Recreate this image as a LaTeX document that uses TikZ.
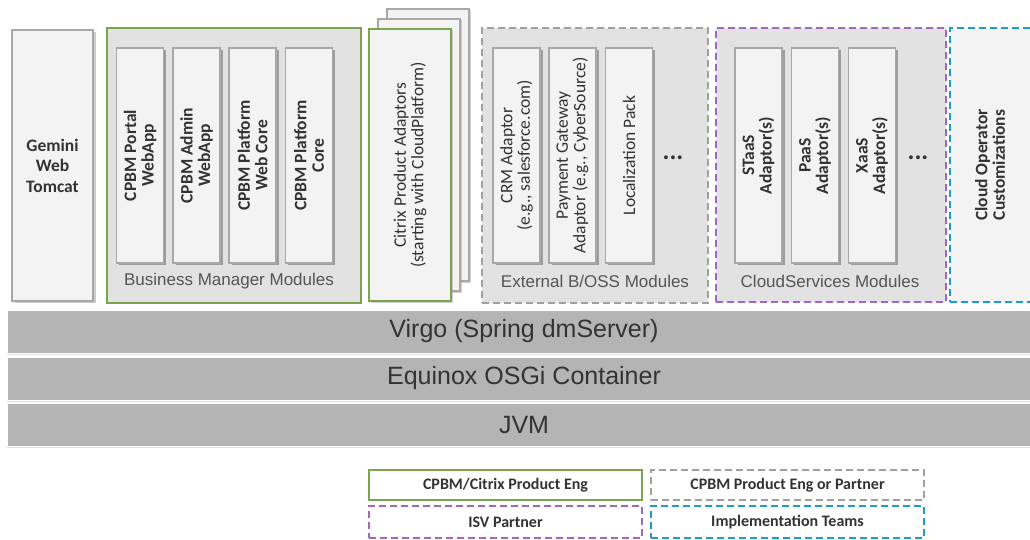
\documentclass[tikz,border=0pt]{standalone}
\usepackage{fontspec}
\setmainfont{Carlito}
\newfontfamily\labfont{Liberation Sans}
\usetikzlibrary{shadows}
\definecolor{gborder}{HTML}{A8A8A8}
\definecolor{boxfill}{HTML}{F3F3F3}
\definecolor{contfill}{HTML}{E2E2E2}
\definecolor{greenc}{HTML}{7AA54E}
\definecolor{purplec}{HTML}{A066C0}
\definecolor{bluec}{HTML}{1F9BC9}
\definecolor{dashgray}{HTML}{A0A0A0}
\definecolor{layerfill}{HTML}{B4B4B4}
\definecolor{txt}{HTML}{333333}
\definecolor{labtxt}{HTML}{555555}
\tikzset{
  inbox/.style={draw=gborder, line width=1.2pt, fill=boxfill, minimum width=47pt, minimum height=215pt, inner sep=0pt,
     drop shadow={shadow xshift=2.5pt, shadow yshift=-2pt, fill=black!45, opacity=0.8}},
  vtext/.style={rotate=90, align=center, font=\fontsize{17.5}{17.5}\selectfont\bfseries, text=txt, inner sep=0pt},
  vtextr/.style={rotate=90, align=center, font=\fontsize{17.5}{17.5}\selectfont, text=txt, inner sep=0pt},
  modlabel/.style={font=\labfont\fontsize{17}{19}\selectfont, text=labtxt, inner sep=0pt},
  layer/.style={fill=layerfill, draw=white, line width=1pt, minimum width=1040pt, minimum height=43pt, inner sep=0pt},
  layertext/.style={font=\labfont\fontsize{25}{27}\selectfont, text=txt, inner sep=0pt},
  page/.style={draw=gborder, line width=1.2pt, fill=boxfill, minimum width=82pt, minimum height=272pt, inner sep=0pt,
     drop shadow={shadow xshift=2pt, shadow yshift=-1.5pt, fill=black!35}},
  legbox/.style={line width=2pt, minimum width=273pt, inner sep=0pt, font=\fontsize{16}{18}\selectfont\bfseries, text=txt},
  dsh/.style={dash pattern=on 7pt off 4pt},
  dots/.style={font=\fontsize{26}{26}\selectfont\bfseries, text=txt, inner sep=0pt}
}
\begin{document}
\begin{tikzpicture}[x=1pt,y=-1pt]
\useasboundingbox (0,0) rectangle (1030,540);
\fill[white] (0,0) rectangle (1030,540);
\begin{scope}
\clip (0,0) rectangle (1030,540);
% Gemini
\node[draw=gborder, line width=1.2pt, fill=boxfill, minimum width=81pt, minimum height=271pt, inner sep=0pt,
  drop shadow={shadow xshift=2.5pt, shadow yshift=-2pt, fill=black!40}] (gem) at (52.5,165.5) {};
\node[align=center, font=\fontsize{17.5}{20.5}\selectfont\bfseries, text=txt] (gemt) at (gem) {Gemini\\Web\\Tomcat};

% Business Manager
\node[draw=greenc, line width=2pt, fill=contfill, minimum width=254pt, minimum height=275pt, inner sep=0pt] (bm) at (234,165.5) {};
\node[inbox] (b1) at (140,155.5) {};
\node[inbox] (b2) at (196.5,155.5) {};
\node[inbox] (b3) at (252.5,155.5) {};
\node[inbox] (b4) at (309,155.5) {};
\node[vtext] at (b1) {CPBM Portal\\WebApp};
\node[vtext] at (b2) {CPBM Admin\\WebApp};
\node[vtext] at (b3) {CPBM Platform\\Web Core};
\node[vtext] at (b4) {CPBM Platform\\Core};
\node[modlabel] (bml) at (229,281) {Business Manager Modules};

% Citrix stacked pages
\node[page] (cp3) at (428,145) {};
\node[page] (cp2) at (419,155) {};
\node[draw=greenc, line width=2pt, fill=boxfill, minimum width=82pt, minimum height=272pt, inner sep=0pt,
  drop shadow={shadow xshift=2pt, shadow yshift=-1.5pt, fill=black!35}] (cp1) at (410,165) {};
\node[vtextr] at (cp1) {Citrix Product Adaptors\\(starting with CloudPlatform)};

% External B/OSS
\node[draw=dashgray, dsh, line width=2pt, fill=contfill, minimum width=226pt, minimum height=275pt, inner sep=0pt] (ext) at (595,165.5) {};
\node[inbox] (e1) at (516.5,155.5) {};
\node[inbox] (e2) at (572.5,155.5) {};
\node[inbox] (e3) at (629,155.5) {};
\node[vtextr] at (e1) {CRM Adaptor\\(e.g., salesforce.com)};
\node[vtextr] at (e2) {Payment Gateway\\Adaptor (e.g., CyberSource)};
\node[vtextr] at (e3) {Localization Pack};
\node[dots] (ed) at (673,158) {...};
\node[modlabel] (extl) at (595,281) {External B/OSS Modules};

% CloudServices
\node[draw=purplec, dsh, line width=2pt, fill=contfill, minimum width=230pt, minimum height=274pt, inner sep=0pt] (cs) at (831,165) {};
\node[inbox] (c1) at (758.5,155.5) {};
\node[inbox] (c2) at (815,155.5) {};
\node[inbox] (c3) at (872,155.5) {};
\node[vtext] at (c1) {STaaS\\Adaptor(s)};
\node[vtext] at (c2) {PaaS\\Adaptor(s)};
\node[vtext] at (c3) {XaaS\\Adaptor(s)};
\node[dots] (cd) at (918,158) {...};
\node[modlabel] (csl) at (830,281) {CloudServices Modules};

% Cloud operator
\node[draw=bluec, dsh, line width=2pt, fill=boxfill, minimum width=90pt, minimum height=274pt, inner sep=0pt] (co) at (995,165) {};
\node[vtext] at (990,165) {Cloud Operator\\Customizations};

% Layers
\node[layer, drop shadow={shadow xshift=0pt, shadow yshift=-1.5pt, fill=black!25}] (virgo) at (527,331.5) {};
\node[layertext] at (524,331.5) {Virgo (Spring dmServer)};
\node[layer, drop shadow={shadow xshift=0pt, shadow yshift=-1.5pt, fill=black!25}] (equinox) at (527,378.5) {};
\node[layertext] at (524,378.5) {Equinox OSGi Container};
\node[layer, drop shadow={shadow xshift=0pt, shadow yshift=-1.5pt, fill=black!25}] (jvm) at (527,425) {};
\node[layertext] at (524,425) {JVM};
\end{scope}

% Legend
\node[legbox, draw=greenc, minimum height=30pt] (l1) at (505.5,485) {CPBM/Citrix Product Eng};
\node[legbox, draw=dashgray, dsh, minimum height=30pt] (l2) at (787.5,485) {CPBM Product Eng or Partner};
\node[legbox, draw=purplec, dsh, minimum height=32pt] (l3) at (505.5,522) {ISV Partner};
\node[legbox, draw=bluec, dsh, minimum height=32pt] (l4) at (787.5,522) {Implementation Teams};
\end{tikzpicture}
\end{document}
